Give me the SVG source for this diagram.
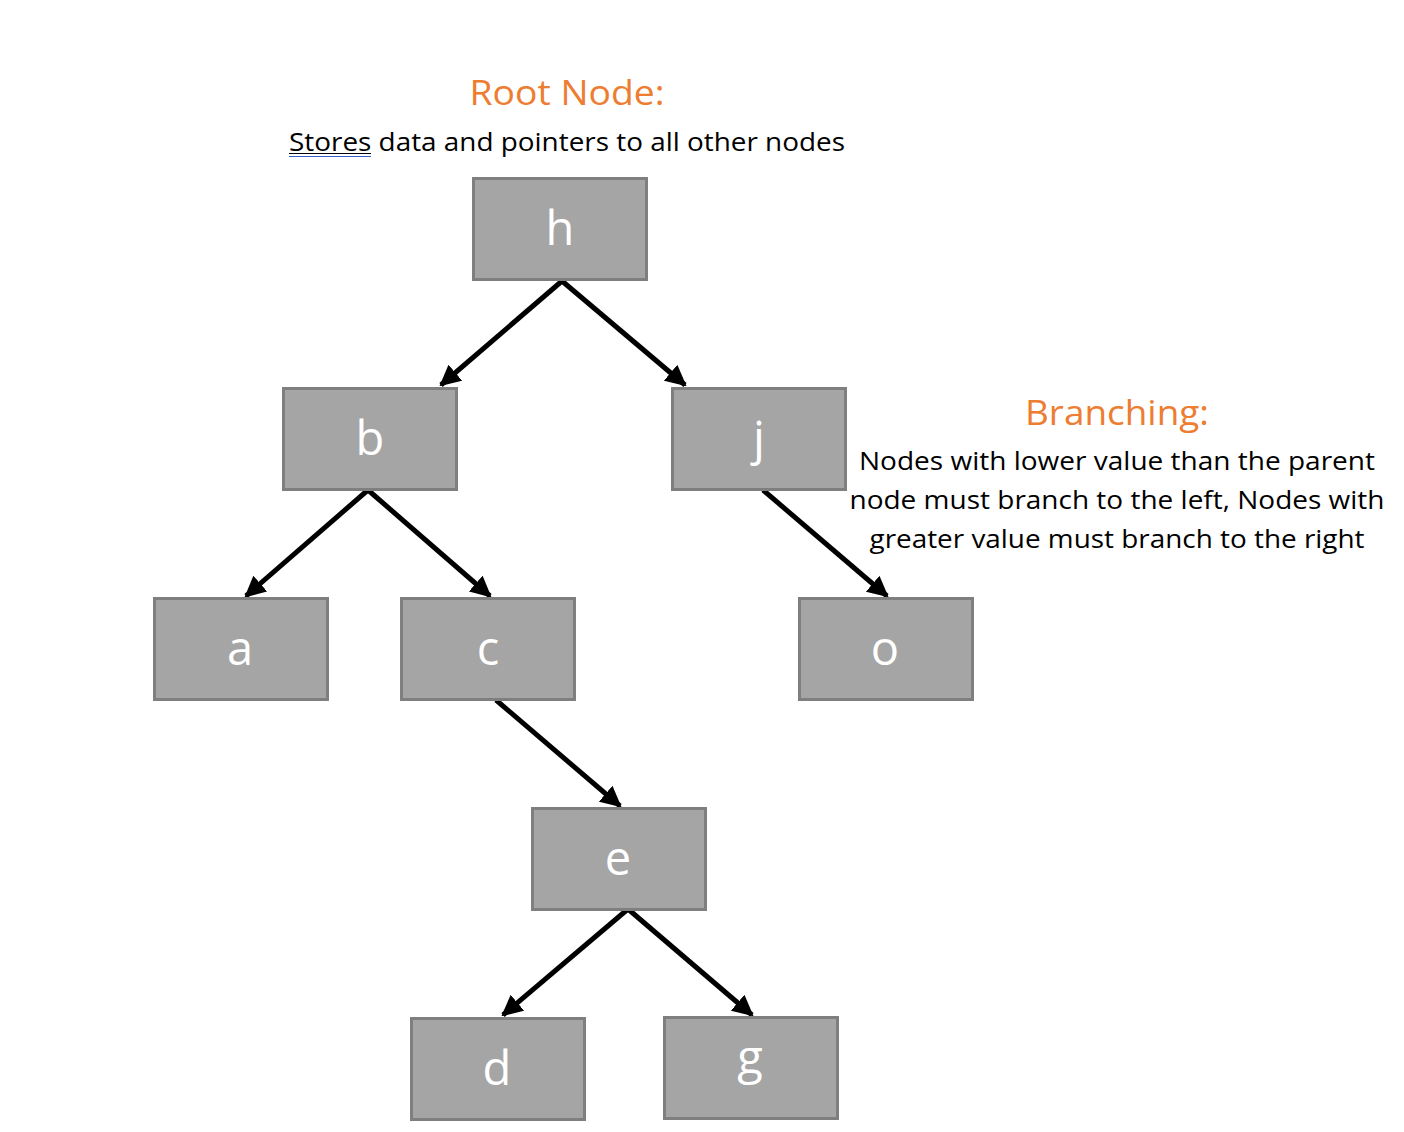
<svg xmlns="http://www.w3.org/2000/svg" width="1404" height="1132" viewBox="0 0 1404 1132">
<style>
.node rect{fill:#a5a5a5;stroke:#7f7f7f;stroke-width:3}
.node text{fill:#ffffff;font-family:"Open Sans","Liberation Sans",sans-serif;font-size:47px;text-anchor:middle}
.title{fill:#ed7d31;font-family:"Open Sans","Liberation Sans",sans-serif;font-size:34px;text-anchor:middle}
.body{fill:#000000;font-family:"Open Sans","Liberation Sans",sans-serif;font-size:26px;text-anchor:middle}
.edge{stroke:#000;stroke-width:5;fill:none;marker-end:url(#ah)}
</style>
<defs>
<marker id="ah" viewBox="0 0 10 10" refX="9" refY="5" markerWidth="4.2" markerHeight="4.2" orient="auto" markerUnits="strokeWidth">
<path d="M0,0 L10,5 L0,10 z" fill="#000"/>
</marker>
</defs>
<rect width="1404" height="1132" fill="#ffffff"/>
<text class="title" x="567" y="105" textLength="195" lengthAdjust="spacingAndGlyphs">Root Node:</text>
<text class="body" x="567" y="151" textLength="556" lengthAdjust="spacingAndGlyphs">Stores data and pointers to all other nodes</text>
<line x1="289" y1="153.5" x2="371" y2="153.5" stroke="#000" stroke-width="1.2"/>
<line x1="289" y1="156.5" x2="371" y2="156.5" stroke="#3a5fcd" stroke-width="1.2"/>
<text class="title" x="1117" y="425" textLength="184" lengthAdjust="spacingAndGlyphs">Branching:</text>
<text class="body" x="1117" y="470" textLength="516" lengthAdjust="spacingAndGlyphs">Nodes with lower value than the parent</text>
<text class="body" x="1117" y="509" textLength="535" lengthAdjust="spacingAndGlyphs">node must branch to the left, Nodes with</text>
<text class="body" x="1117" y="548" textLength="495" lengthAdjust="spacingAndGlyphs">greater value must branch to the right</text>
<g id="connectors">
<line class="edge" x1="562" y1="281" x2="441" y2="385"/>
<line class="edge" x1="562" y1="281" x2="685" y2="385"/>
<line class="edge" x1="368" y1="490" x2="246" y2="596"/>
<line class="edge" x1="368" y1="490" x2="490" y2="596"/>
<line class="edge" x1="763" y1="490" x2="887" y2="596"/>
<line class="edge" x1="496" y1="700" x2="620" y2="806"/>
<line class="edge" x1="628" y1="909" x2="503" y2="1015"/>
<line class="edge" x1="628" y1="909" x2="752" y2="1015"/>
</g>
<g id="node-h" class="node"><rect x="473.5" y="178.5" width="173" height="101"/><text x="560" y="245">h</text></g>
<g id="node-b" class="node"><rect x="283.5" y="388.5" width="173" height="101"/><text x="370" y="455">b</text></g>
<g id="node-j" class="node"><rect x="672.5" y="388.5" width="173" height="101"/><text x="759" y="455">j</text></g>
<g id="node-a" class="node"><rect x="154.5" y="598.5" width="173" height="101"/><text x="240" y="665">a</text></g>
<g id="node-c" class="node"><rect x="401.5" y="598.5" width="173" height="101"/><text x="488" y="665">c</text></g>
<g id="node-o" class="node"><rect x="799.5" y="598.5" width="173" height="101"/><text x="885" y="665">o</text></g>
<g id="node-e" class="node"><rect x="532.5" y="808.5" width="173" height="101"/><text x="618" y="875">e</text></g>
<g id="node-d" class="node"><rect x="411.5" y="1018.5" width="173" height="101"/><text x="497" y="1085">d</text></g>
<g id="node-g" class="node"><rect x="664.5" y="1017.5" width="173" height="101"/><text x="750" y="1074">g</text></g>
</svg>
